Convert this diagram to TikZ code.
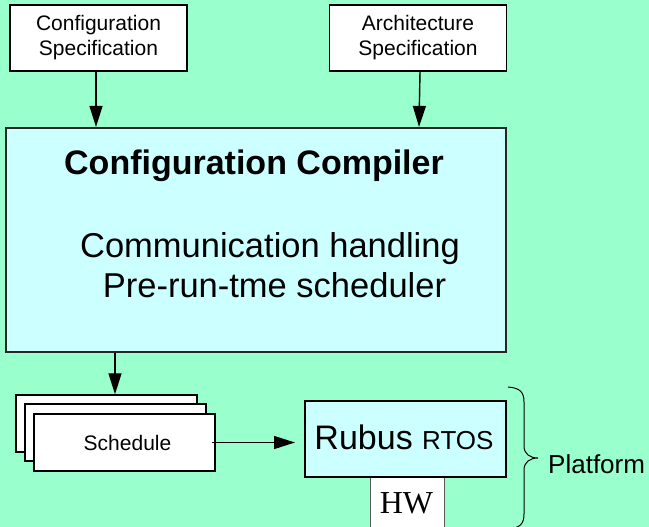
\documentclass[tikz,border=0pt]{standalone}
\usepackage{fontspec}
\setmainfont{Liberation Sans}
\newfontfamily\hwfont{Liberation Serif}
\usetikzlibrary{arrows.meta}
\definecolor{mintbg}{HTML}{99FFCC}
\definecolor{paleblue}{HTML}{CCFFFF}
\tikzset{
  specbox/.style={draw=black, line width=1.5pt, fill=white, minimum width=177pt, minimum height=66pt,
    align=center, inner sep=0pt, font=\fontsize{21}{25}\selectfont},
  pagebox/.style={draw=black, line width=1.5pt, fill=white, minimum width=181pt, minimum height=57pt, inner sep=0pt},
  flow/.style={line width=1.4pt, -{Triangle[length=21pt,width=13pt]}},
  plain/.style={inner sep=0pt, anchor=base}
}
\begin{document}
\begin{tikzpicture}[x=1pt,y=-1pt]
  \useasboundingbox (0,0) rectangle (649,527);
  \fill[mintbg] (0,0) rectangle (649,527);

  % input specifications
  \node[specbox] (cfg) at (98.5,38) {Configuration\\Specification};
  \node[specbox] (arch) at (418,38) {Architecture\\Specification};

  % compiler block
  \node[draw=black!85, line width=2.2pt, fill=paleblue, minimum width=500pt, minimum height=224pt, inner sep=0pt] (comp) at (256,240) {};
  \node[plain, font=\bfseries\fontsize{34}{37}\selectfont] (ctitle) at (254,175) {Configuration Compiler};
  \node[plain, font=\fontsize{34.5}{38}\selectfont] (cl1) at (270,257) {Communication handling};
  \node[plain, font=\fontsize{34.5}{38}\selectfont] (cl2) at (274.5,297) {Pre-run-tme scheduler};

  \draw[flow] ([xshift=-2.5pt]cfg.south) -- ([xshift=-2.5pt]cfg.south |- comp.north);
  \draw[flow] ([xshift=2pt]arch.south) -- ([xshift=1pt]arch.south |- comp.north);

  % stacked schedule pages
  \node[pagebox] (back) at (106.5,423.5) {};
  \node[pagebox] (mid) at (115.5,432.5) {};
  \node[pagebox] (sched) at (124.5,442.5) {};
  \node[plain, font=\fontsize{21}{25}\selectfont] (schedtxt) at (127.5,450) {Schedule};

  \draw[flow] ([xshift=8.5pt]back.north |- comp.south) -- ([xshift=8.5pt]back.north);

  % platform
  \node[draw=black!65, line width=1pt, fill=white, minimum width=74pt, minimum height=54pt, inner sep=0pt] (hw) at (407,504) {};
  \node[plain, font=\hwfont\fontsize{32}{34}\selectfont] (hwtxt) at (406.5,513) {HW};
  \node[draw=black, line width=2pt, fill=paleblue, minimum width=201pt, minimum height=76pt, inner sep=0pt] (rubus) at (405.5,439) {};
  \node[plain, font=\fontsize{34}{38}\selectfont] (rubustxt) at (404,449) {Rubus {\fontsize{26}{30}\selectfont RTOS}};

  \draw[flow, shorten <=-4pt, shorten >=9pt] (sched.east) -- (sched.east -| rubus.west);

  % brace grouping the platform
  \draw[line width=1pt] (508,387) .. controls (520,388) and (524,392) .. (524,402)
    -- (524,446) .. controls (524,454) and (530,458) .. (538,458)
    .. controls (530,458) and (524,462) .. (524,470)
    -- (524,514) .. controls (524,524) and (520,528) .. (508,529);
  \node[inner sep=0pt, anchor=west, font=\fontsize{26}{30}\selectfont] (plat) at (548,464) {Platform};
\end{tikzpicture}
\end{document}
